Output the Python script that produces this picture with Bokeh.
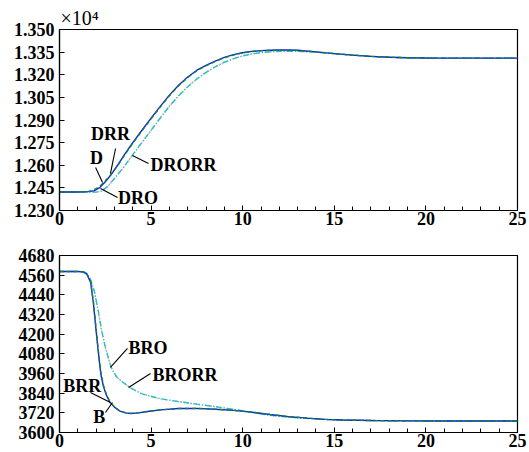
from bokeh.plotting import figure
from bokeh.layouts import column
from bokeh.models import (Range1d, SingleIntervalTicker, FixedTicker, PrintfTickFormatter, Label,
                          LinearAxis)
from bokeh.embed import file_html
from bokeh.resources import INLINE

# ---------------- data: top panel (values x 10^4) ----------------
t_top_fast = [0, 1.0, 1.6, 1.9, 2.2, 2.5, 2.8, 3.2, 3.6, 4.0, 4.5, 5.0, 5.5, 6.0, 6.5, 7.0,
              7.5, 8.0, 8.5, 9.0, 9.5, 10.0, 10.5, 11.0, 11.5, 12.0, 12.5, 13, 14, 15, 16,
              17, 18, 19, 20, 21, 22, 23, 24, 25]
D = [1.2423, 1.2423, 1.2425, 1.2432, 1.2452, 1.2490, 1.2535, 1.2605, 1.2680, 1.2750, 1.2832,
     1.2912, 1.2990, 1.3065, 1.3130, 1.3185, 1.3230, 1.3262, 1.3290, 1.3315, 1.3333, 1.3346,
     1.3355, 1.3360, 1.3362, 1.3364, 1.3364, 1.3362, 1.3352, 1.3340, 1.3330, 1.3322, 1.3316,
     1.3313, 1.3311, 1.3310, 1.3310, 1.3310, 1.3310, 1.3310]
DRR = [1.2423, 1.2423, 1.2427, 1.2438, 1.2460, 1.2498, 1.2537, 1.2602, 1.2676, 1.2746, 1.2828,
       1.2908, 1.2986, 1.3061, 1.3127, 1.3182, 1.3227, 1.3260, 1.3288, 1.3313, 1.3331, 1.3345,
       1.3354, 1.3359, 1.3362, 1.3363, 1.3363, 1.3361, 1.3352, 1.3340, 1.3330, 1.3322, 1.3316,
       1.3313, 1.3311, 1.3310, 1.3310, 1.3310, 1.3310, 1.3310]
t_top_slow = [0, 1.0, 1.9, 2.0, 2.3, 2.6, 3.0, 3.5, 4.0, 4.5, 5.0, 5.5, 6.0, 6.5, 7.0, 7.5,
              8.0, 8.5, 9.0, 9.5, 10.0, 10.5, 11.0, 11.5, 12.0, 13, 14, 15, 16, 17, 18, 19,
              20, 21, 22, 23, 24, 25]
DRO = [1.2423, 1.2423, 1.2422, 1.2420, 1.2428, 1.2455, 1.2510, 1.2585, 1.2668, 1.2750, 1.2830,
       1.2912, 1.2990, 1.3060, 1.3120, 1.3172, 1.3215, 1.3252, 1.3282, 1.3306, 1.3325, 1.3338,
       1.3347, 1.3352, 1.3355, 1.3355, 1.3350, 1.3340, 1.3330, 1.3322, 1.3316, 1.3313, 1.3311,
       1.3310, 1.3310, 1.3310, 1.3310, 1.3310]
DRORR = [1.2423, 1.2423, 1.2423, 1.2422, 1.2430, 1.2457, 1.2512, 1.2587, 1.2670, 1.2752, 1.2832,
         1.2913, 1.2992, 1.3061, 1.3121, 1.3173, 1.3216, 1.3253, 1.3283, 1.3307, 1.3325, 1.3338,
         1.3347, 1.3352, 1.3355, 1.3355, 1.3350, 1.3340, 1.3330, 1.3322, 1.3316, 1.3313, 1.3311,
         1.3310, 1.3310, 1.3310, 1.3310, 1.3310]

# ---------------- data: bottom panel ----------------
t_bot_fast = [0, 1.0, 1.3, 1.5, 1.7, 1.85, 2.0, 2.1, 2.25, 2.4, 2.55, 2.75, 3.0, 3.3, 3.6, 3.9,
              4.3, 4.8, 5.5, 6.5, 7.5, 8.5, 9.5, 10.5, 11.5, 12.5, 13.5, 14.5, 15.5, 17, 19,
              21, 23, 25]
B = [4582, 4582, 4580, 4565, 4515, 4390, 4220, 4110, 3960, 3880, 3830, 3785, 3755, 3730, 3720,
     3716, 3720, 3728, 3738, 3746, 3747, 3742, 3735, 3724, 3710, 3697, 3688, 3680, 3676, 3673,
     3671, 3670, 3670, 3670]
BRR = [4582, 4582, 4580, 4567, 4520, 4400, 4232, 4120, 3972, 3888, 3835, 3788, 3756, 3731, 3721,
       3717, 3720, 3728, 3738, 3746, 3747, 3742, 3735, 3724, 3710, 3697, 3688, 3680, 3676, 3673,
       3671, 3670, 3670, 3670]
t_bot_slow = [0, 1.0, 1.3, 1.5, 1.7, 1.9, 2.1, 2.3, 2.5, 2.8, 3.1, 3.4, 3.9, 4.5, 5.5, 6.5, 7.5,
              8.5, 9.5, 10.5, 11.5, 12.5, 13.5, 14.5, 15.5, 17, 19, 21, 23, 25]
BRO = [4582, 4582, 4580, 4570, 4530, 4460, 4350, 4220, 4120, 4000, 3940, 3910, 3870, 3835, 3805,
       3788, 3772, 3757, 3740, 3722, 3704, 3693, 3686, 3680, 3676, 3673, 3671, 3670, 3670, 3670]
BRORR = [4582, 4582, 4580, 4571, 4532, 4462, 4352, 4222, 4122, 4002, 3942, 3911, 3871, 3836, 3806,
         3789, 3773, 3758, 3741, 3723, 3705, 3694, 3686, 3680, 3676, 3673, 3671, 3670, 3670, 3670]

top_yticks = [1.230, 1.245, 1.260, 1.275, 1.290, 1.305, 1.320, 1.335, 1.350]
bot_yticks = [3600, 3720, 3840, 3960, 4080, 4200, 4320, 4440, 4560, 4680]
top_scale_text = "×10⁴"
top_scale_pos = 1.1   # x position (data units) where the scale text is centred

# annotation texts: (text, label x, label y, leader x0, y0, x1, y1)
top_notes = [("DRR", 1.72, 1.2805, 3.06, 1.2711, 2.78, 1.2545),
             ("D", 1.66, 1.2646, 1.97, 1.2585, 2.35, 1.2486),
             ("DRO", 3.20, 1.2381, 3.17, 1.2386, 2.24, 1.2446),
             ("DRORR", 4.97, 1.2603, 4.86, 1.2612, 3.98, 1.2665)]
bot_notes = [("BRO", 3.77, 4114, 3.71, 4113, 2.78, 3997),
             ("BRORR", 5.08, 3952, 4.97, 3960, 3.77, 3875),
             ("BRR", 0.20, 3885, 1.69, 3844, 2.78, 3783),
             ("B", 1.84, 3693, 2.51, 3722, 2.89, 3783)]

FONT = "Liberation Serif"
FS = "18px"
STYLE = "bold"


def make_fig(height, border_top, border_bottom, yr, yticks, fmt):
    p = figure(width=529, height=height, output_backend="svg", toolbar_location=None,
               x_range=Range1d(0, 25), y_range=Range1d(*yr),
               min_border_left=59, min_border_right=12, min_border_top=border_top,
               min_border_bottom=border_bottom)
    p.grid.visible = False
    p.outline_line_color = "black"
    p.outline_line_width = 1.2
    p.background_fill_color = "white"
    p.border_fill_color = "white"
    xa = p.xaxis[0]
    xa.ticker = SingleIntervalTicker(interval=5, num_minor_ticks=5)
    ya = p.yaxis[0]
    ya.ticker = FixedTicker(ticks=yticks, minor_ticks=[])
    ya.formatter = PrintfTickFormatter(format=fmt)
    for ax in (xa, ya):
        ax.major_tick_in = 5
        ax.major_tick_out = 0
        ax.minor_tick_in = 4
        ax.minor_tick_out = 0
        ax.axis_line_color = "black"
        ax.axis_line_width = 1.2
        ax.major_tick_line_color = "black"
        ax.minor_tick_line_color = "black"
        ax.major_label_text_font = FONT
        ax.major_label_text_font_size = FS
        ax.major_label_text_font_style = STYLE
        ax.major_label_text_color = "black"
    xa.major_label_standoff = 1
    ya.major_label_standoff = 5
    return p


def draw(p, tf, s_fast, s_fast2, ts, s_slow, s_slow2):
    p.line(ts, s_slow, line_color="#f08c8c", line_width=1.4, line_dash="1 2")
    p.line(ts, s_slow2, line_color="#1cc4c4", line_width=1.4, line_dash="6 2 1 2")
    p.line(tf, s_fast, line_color="#1a1aff", line_width=1.4)
    p.line(tf, s_fast2, line_color="#0a8a1e", line_width=1.4, line_dash="4 3")


def annotate(p, notes):
    for txt, lx, ly, x0, y0, x1, y1 in notes:
        p.segment(x0=[x0], y0=[y0], x1=[x1], y1=[y1], line_color="black", line_width=1.1)
        p.add_layout(Label(x=lx, y=ly, text=txt, text_font=FONT, text_font_size=FS,
                           text_font_style=STYLE, text_align="left",
                           text_baseline="middle", text_color="black"))


p1 = make_fig(232, 29, 22, (1.230, 1.350), top_yticks, "%.3f")
top_axis = LinearAxis(ticker=FixedTicker(ticks=[top_scale_pos], minor_ticks=[]),
                      major_label_overrides={top_scale_pos: top_scale_text},
                      axis_line_color=None, major_tick_line_color=None,
                      minor_tick_line_color=None, major_tick_in=0, major_tick_out=0,
                      major_label_standoff=1, major_label_text_font=FONT,
                      major_label_text_font_size="20px", major_label_text_font_style="normal",
                      major_label_text_color="black")
p1.add_layout(top_axis, "above")
draw(p1, t_top_fast, D, DRR, t_top_slow, DRO, DRORR)
annotate(p1, top_notes)

p2 = make_fig(220, 23, 20, (3600, 4680), bot_yticks, "%d")
draw(p2, t_bot_fast, B, BRR, t_bot_slow, BRO, BRORR)
annotate(p2, bot_notes)

layout = column(p1, p2, spacing=0)
open("out.html", "w").write(file_html(layout, INLINE))
